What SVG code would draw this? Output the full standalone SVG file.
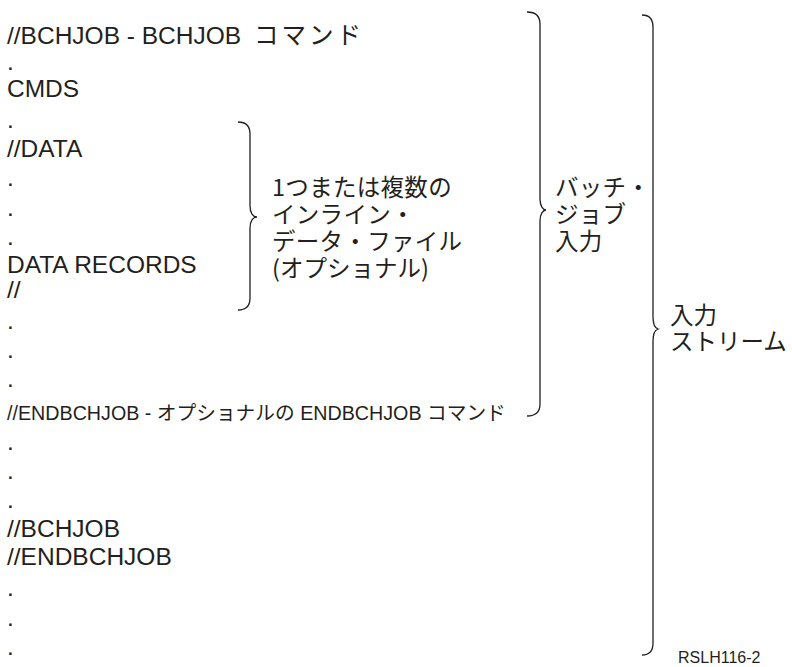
<svg xmlns="http://www.w3.org/2000/svg" width="792" height="667" viewBox="0 0 792 667">
<style>
.t{font-family:"Liberation Sans","Noto Sans CJK JP",Arial,sans-serif;font-size:24.5px;fill:#231f20}
.s{font-family:"Liberation Sans","Noto Sans CJK JP",Arial,sans-serif;font-size:19.7px;fill:#231f20}
.j{font-family:"Noto Sans CJK JP","Liberation Sans",sans-serif;font-size:23.5px;fill:#231f20}
.r{font-family:"Liberation Sans",Arial,sans-serif;font-size:16px;fill:#231f20}
.b{fill:none;stroke:#231f20;stroke-width:1.3}
</style>
<rect width="792" height="667" fill="#ffffff"/>
<g id="stream">
<text class="t" x="7" y="44">//BCHJOB - BCHJOB <tspan font-family="'Noto Sans CJK JP',sans-serif" dx="6" letter-spacing="3">コマンド</tspan></text>
<text class="t" x="7" y="70">.</text>
<text class="t" x="7" y="97">CMDS</text>
<text class="t" x="7" y="128">.</text>
<text class="t" x="7" y="157">//DATA</text>
<text class="t" x="7" y="186">.</text>
<text class="t" x="7" y="216">.</text>
<text class="t" x="7" y="245">.</text>
<text class="t" x="7" y="273">DATA RECORDS</text>
<text class="t" x="7" y="298">//</text>
<text class="t" x="7" y="329">.</text>
<text class="t" x="7" y="358">.</text>
<text class="t" x="7" y="387">.</text>
<text class="s" x="7" y="420">//ENDBCHJOB - <tspan font-family="'Noto Sans CJK JP',sans-serif">オプショナルの</tspan> ENDBCHJOB <tspan font-family="'Noto Sans CJK JP',sans-serif">コマンド</tspan></text>
<text class="t" x="7" y="450">.</text>
<text class="t" x="7" y="479">.</text>
<text class="t" x="7" y="508">.</text>
<text class="t" x="7" y="537">//BCHJOB</text>
<text class="t" x="7" y="565">//ENDBCHJOB</text>
<text class="t" x="7" y="596">.</text>
<text class="t" x="7" y="626">.</text>
<text class="t" x="7" y="655">.</text>
</g>
<g id="inline-data-label">
<text class="j" letter-spacing="0.3"><tspan x="272" y="196">1つまたは複数の</tspan><tspan x="272" y="223">インライン・</tspan><tspan x="272" y="250">データ・ファイル</tspan><tspan x="272" y="277" letter-spacing="0">(オプショナル)</tspan></text>
</g>
<g id="batch-job-label">
<text class="j" letter-spacing="0.3"><tspan x="555" y="196">バッチ・</tspan><tspan x="555" y="223">ジョブ</tspan><tspan x="555" y="250">入力</tspan></text>
</g>
<g id="input-stream-label">
<text class="j"><tspan x="670" y="324">入力</tspan><tspan x="670" y="350">ストリーム</tspan></text>
</g>
<g id="figure-id">
<text class="r" x="678" y="663">RSLH116-2</text>
</g>
<g id="connectors">
<path class="b" d="M238,122 C246,122 250,126 250,134 L250,206 C250,213 253,217 257,217 C253,217 250,221 250,228 L250,298 C250,306 246,310 238,310"/>
<path class="b" d="M527,12 C535,12 540,16 540,24 L540,199 C540,206 543,210 546,210 C543,210 540,214 540,221 L540,404 C540,412 535,416 527,416"/>
<path class="b" d="M642,15 C649,15 653,19 653,27 L653,317 C653,324 655,328 658,329 C655,330 653,334 653,341 L653,643 C653,651 649,655 642,655"/>
</g>
</svg>
